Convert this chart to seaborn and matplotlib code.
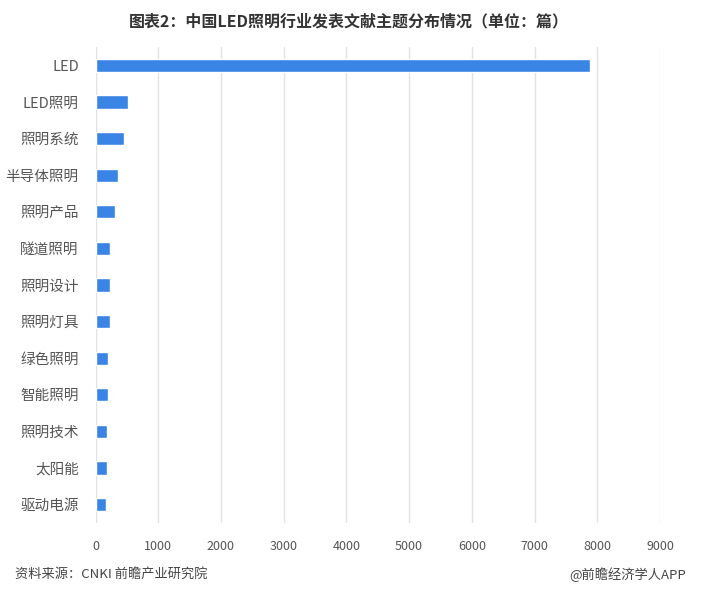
import pandas as pd
import seaborn as sns
import matplotlib.pyplot as plt

# topics and article counts
topics = ['LED', 'LED照明', '照明系统', '半导体照明', '照明产品', '隧道照明', '照明设计',
          '照明灯具', '绿色照明', '智能照明', '照明技术', '太阳能', '驱动电源']
counts = [7880, 518, 460, 359, 311, 236, 236, 226, 194, 194, 178, 178, 162]
x_ticks = [0, 1000, 2000, 3000, 4000, 5000, 6000, 7000, 8000, 9000]

df = pd.DataFrame({'topic': topics, 'count': counts})

sns.set_style('white')
plt.rcParams['font.family'] = ['Noto Sans CJK SC', 'DejaVu Sans']

fig = plt.figure(figsize=(7.15, 5.93), dpi=100)
ax = fig.add_axes([95.5 / 715, 1 - 523 / 593, (660 - 95.5) / 715, (523 - 47) / 593])

sns.barplot(data=df, x='count', y='topic', orient='h', color='#3a84e6',
            saturation=1, width=0.36, ax=ax, zorder=3)

ax.set_xlim(0, 9000)
ax.set_ylim(12.5, -0.5)
ax.set_xticks(x_ticks)
ax.set_xticklabels([str(t) for t in x_ticks])
ax.grid(axis='x', color='#e2e2e2', linewidth=1, zorder=0)
ax.grid(axis='y', visible=False)
for s in ax.spines.values():
    s.set_visible(False)

ax.tick_params(axis='y', length=0, pad=12, labelsize=10.5, labelcolor='#555555')
ax.tick_params(axis='x', length=0, pad=12, labelsize=9, labelcolor='#555555')
ax.set_xlabel('')
ax.set_ylabel('')

# title and footer
fig.text(349 / 715, 1 - 21 / 593, '图表2：中国LED照明行业发表文献主题分布情况（单位：篇）',
         ha='center', va='center', fontsize=11.5, fontweight='bold', color='#333333')
fig.text(15 / 715, 1 - 574 / 593, '资料来源：CNKI 前瞻产业研究院',
         ha='left', va='center', fontsize=9.5, color='#444444')
fig.text(686 / 715, 1 - 575 / 593, '@前瞻经济学人APP',
         ha='right', va='center', fontsize=9.5, color='#444444')

fig.savefig('out.png', dpi=100)
